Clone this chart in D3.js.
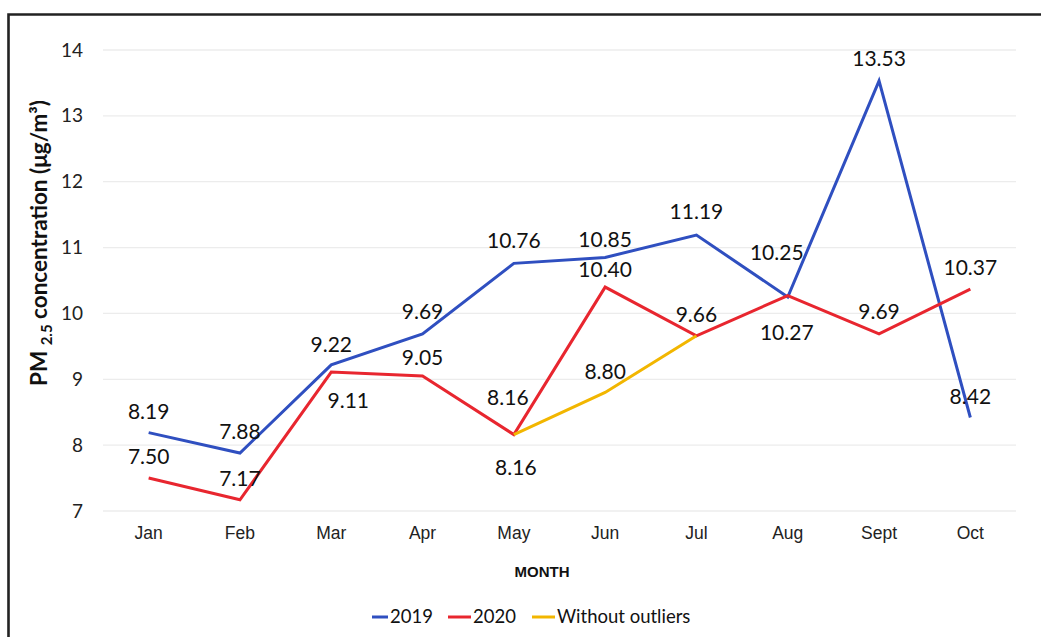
<!DOCTYPE html>
<html><head><meta charset="utf-8">
<script src="https://cdn.jsdelivr.net/npm/d3@7"></script>
<style>html,body{margin:0;padding:0;background:#fff;}svg{display:block;}</style>
</head><body>
<script>
const months = ["Jan","Feb","Mar","Apr","May","Jun","Jul","Aug","Sept","Oct"];
const values2019 = [8.19,7.88,9.22,9.69,10.76,10.85,11.19,10.25,13.53,8.42];
const values2020 = [7.50,7.17,9.11,9.05,8.16,10.40,9.66,10.27,9.69,10.37];
const outlierMonths = ["May","Jun","Jul"];
const valuesNoOutliers = [8.16,8.80,9.66];
const yTicks = [7,8,9,10,11,12,13,14];
const seriesNames = ["2019","2020","Without outliers"];
const colors = ["#2f4fc0","#e8262f","#f2b600"];
// label placement offsets (dx, dy from point)
const lab2019 = [[0,-21],[0,-21],[0,-20],[0,-22],[0,-23],[0,-18],[0,-23],[-11,-44],[0,-22],[0,-21]];
const lab2020 = [[0,-21],[0,-21],[17,29],[0,-18],[-6,-37],[0,-17],[0,-21],[-1,37],[0,-22],[0,-21]];
const labNo = [[2,33],[0,-21],null];

const W=1041,H=637;
const svg=d3.select("body").append("svg").attr("width",W).attr("height",H);
const x=d3.scaleBand().domain(months).range([103,1016]);
const y=d3.scaleLinear().domain([7,14]).range([511,50]);
const cx=m=>x(m)+x.bandwidth()/2;

// frame
svg.append("path").attr("d","M8.5,637 L8.5,14.5 L1041,14.5").attr("fill","none").attr("stroke","#222").attr("stroke-width",2.6);

// gridlines
svg.append("g").selectAll("line").data(yTicks).join("line")
 .attr("x1",103).attr("x2",1016).attr("y1",d=>y(d)).attr("y2",d=>y(d))
 .attr("stroke","#ececec").attr("stroke-width",1.3);

// y axis labels
const yAxis=d3.axisLeft(y).tickValues(yTicks).tickFormat(d3.format("d")).tickSize(0).tickPadding(0);
const ga=svg.append("g").attr("transform","translate(83,0)").call(yAxis);
ga.select(".domain").remove();
ga.selectAll("text").attr("font-family","Lato, 'Open Sans', sans-serif").attr("font-size",19).attr("fill","#222");

// x axis labels
const xAxis=d3.axisBottom(x).tickSize(0).tickPadding(0);
const gx=svg.append("g").attr("transform","translate(0,527)").call(xAxis);
gx.select(".domain").remove();
gx.selectAll("text").attr("font-family","'Liberation Sans', Arial, sans-serif").attr("font-size",17.5).attr("fill","#222");

// axis titles
svg.append("text").attr("x",542).attr("y",577).attr("text-anchor","middle")
 .attr("font-family","'Liberation Sans', Arial, sans-serif").attr("font-weight","bold").attr("font-size",15).attr("fill","#111").text("MONTH");
const yt=svg.append("text").attr("transform","translate(47,243) rotate(-90)").attr("text-anchor","middle")
 .attr("font-family","Lato, 'Open Sans', sans-serif").attr("font-weight","bold").attr("font-size",22.5).attr("fill","#111");
yt.append("tspan").text("PM ");
yt.append("tspan").attr("font-size",15).attr("dy",5).text("2.5");
yt.append("tspan").attr("dy",-5).text(" concentration (μg/m³)");

const line=d3.line().x(d=>cx(d[0])).y(d=>y(d[1]));
const d2019=months.map((m,i)=>[m,values2019[i]]);
const d2020=months.map((m,i)=>[m,values2020[i]]);
const dNo=outlierMonths.map((m,i)=>[m,valuesNoOutliers[i]]);

svg.append("path").datum(d2019).attr("d",line).attr("fill","none").attr("stroke",colors[0]).attr("stroke-width",3).attr("stroke-linejoin","miter");
svg.append("path").datum(d2020).attr("d",line).attr("fill","none").attr("stroke",colors[1]).attr("stroke-width",3).attr("stroke-linejoin","miter");
svg.append("path").datum(dNo).attr("d",line).attr("fill","none").attr("stroke",colors[2]).attr("stroke-width",3);

function labels(data,offs){
  svg.append("g").selectAll("text").data(data.map((d,i)=>[d,offs[i]]).filter(e=>e[1])).join("text")
   .attr("x",e=>cx(e[0][0])+e[1][0]).attr("y",e=>y(e[0][1])+e[1][1])
   .attr("dy","0.35em").attr("text-anchor","middle")
   .attr("font-family","Lato, 'Open Sans', sans-serif").attr("font-size",21).attr("fill","#111")
   .text(e=>e[0][1].toFixed(2));
}
labels(d2019,lab2019);
labels(d2020,lab2020);
labels(dNo,labNo);

// legend
const leg=[[372,390],[448,473],[532,557]];
seriesNames.forEach((n,i)=>{
  svg.append("line").attr("x1",leg[i][0]).attr("x2",leg[i][1]-2).attr("y1",617).attr("y2",617).attr("stroke",colors[i]).attr("stroke-width",3);
  svg.append("text").attr("x",leg[i][1]).attr("y",617).attr("dy","0.35em")
   .attr("font-family","Lato, 'Open Sans', sans-serif").attr("font-size",18.5).attr("fill","#111").text(n);
});
</script>
</body></html>
